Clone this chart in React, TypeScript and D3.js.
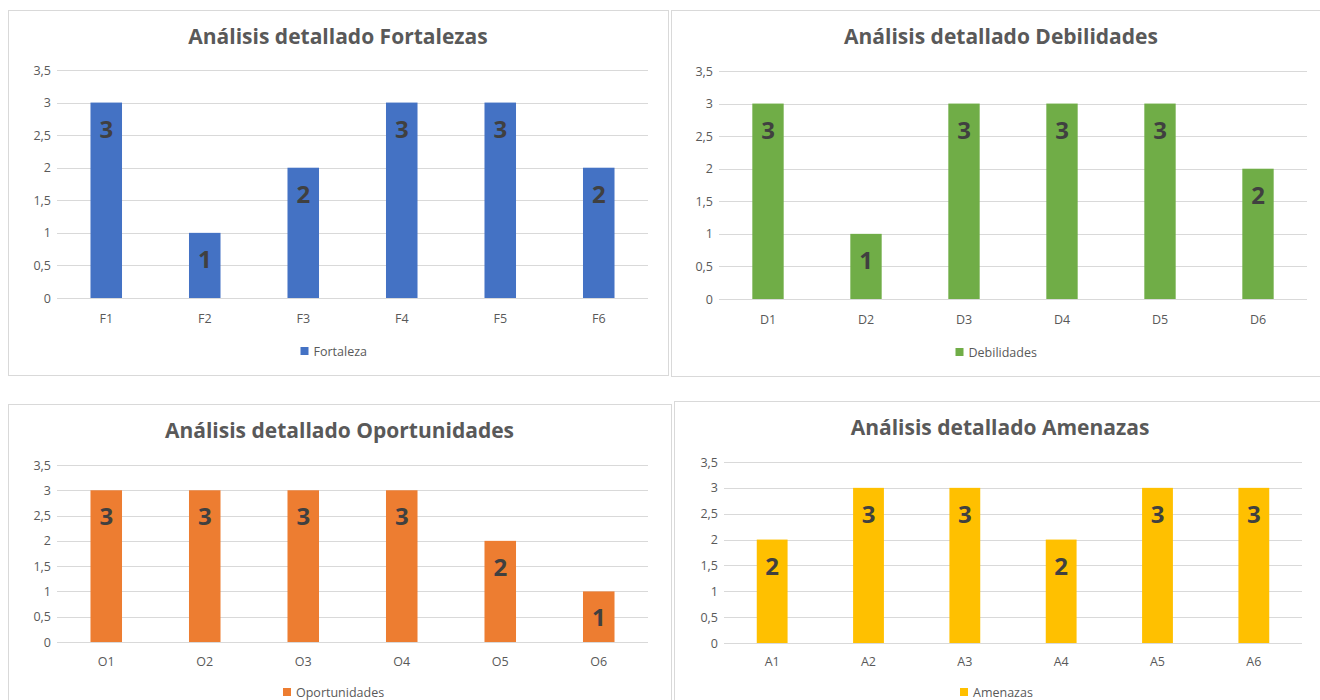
import React, { FC } from 'react'
import * as d3 from 'd3'

// datos
const fortalezasCats = ['F1', 'F2', 'F3', 'F4', 'F5', 'F6']
const fortalezasValues = [3, 1, 2, 3, 3, 2]
const debilidadesCats = ['D1', 'D2', 'D3', 'D4', 'D5', 'D6']
const debilidadesValues = [3, 1, 3, 3, 3, 2]
const oportunidadesCats = ['O1', 'O2', 'O3', 'O4', 'O5', 'O6']
const oportunidadesValues = [3, 3, 3, 3, 2, 1]
const amenazasCats = ['A1', 'A2', 'A3', 'A4', 'A5', 'A6']
const amenazasValues = [2, 3, 3, 2, 3, 3]
const yTicks = [0, 0.5, 1, 1.5, 2, 2.5, 3, 3.5]

const FONT = '"Open Sans", Lato, sans-serif'
const AXIS_COLOR = '#595959'
const GRID_COLOR = '#d9d9d9'

interface IBox {
	x: number
	y: number
	w: number
	h: number
}

interface IPlot {
	left: number
	right: number
	top: number
	bottom: number
}

interface IPanelProps {
	title: string
	legend: string
	cats: string[]
	values: number[]
	color: string
	frame: IBox
	plot: IPlot
	titleY: number
	xLabelY: number
	legendY: number
	legendW: number
}

const fmt = (v: number) => String(v).replace('.', ',')

const BarPanel: FC<IPanelProps> = (p) => {
	const { frame, plot } = p
	const x = d3.scaleBand<string>().domain(p.cats).range([plot.left, plot.right]).paddingInner(0.68).paddingOuter(0.34)
	const y = d3.scaleLinear().domain([0, 3.5]).range([plot.bottom, plot.top])
	const cx = frame.x + frame.w / 2
	const band = (plot.right - plot.left) / p.cats.length

	return (
		<g>
			<rect x={frame.x + 0.5} y={frame.y + 0.5} width={frame.w} height={frame.h} fill="#fff" stroke={GRID_COLOR} />
			<text x={cx} y={p.titleY} textAnchor="middle" fontFamily={FONT} fontWeight="bold" fontSize={21} fill={AXIS_COLOR}>
				{p.title}
			</text>
			{/* rejilla */}
			{yTicks.map((t) => (
				<g key={t}>
					<line x1={plot.left} x2={plot.right} y1={Math.round(y(t)) + 0.5} y2={Math.round(y(t)) + 0.5} stroke={GRID_COLOR} strokeWidth={1} />
					<text x={plot.left - 6} y={y(t) + 4.5} textAnchor="end" fontFamily={FONT} fontSize={12.5} fill={AXIS_COLOR}>
						{fmt(t)}
					</text>
				</g>
			))}
			{/* barras */}
			{p.values.map((v, i) => (
				<rect key={i} x={x(p.cats[i])} y={y(v)} width={x.bandwidth()} height={y(0) - y(v)} fill={p.color} />
			))}
			{/* etiquetas */}
			{p.values.map((v, i) => (
				<text
					key={i}
					x={(x(p.cats[i]) || 0) + x.bandwidth() / 2}
					y={y(v) + 35}
					textAnchor="middle"
					fontFamily={FONT}
					fontWeight="bold"
					fontSize={24}
					fill="#404040"
				>
					{v}
				</text>
			))}
			{p.cats.map((c, i) => (
				<text key={c} x={plot.left + band * (i + 0.5)} y={p.xLabelY + 4.5} textAnchor="middle" fontFamily={FONT} fontSize={12.5} fill={AXIS_COLOR}>
					{c}
				</text>
			))}
			{/* leyenda */}
			<rect x={cx - p.legendW / 2} y={p.legendY - 4} width={8} height={8} fill={p.color} />
			<text x={cx - p.legendW / 2 + 13} y={p.legendY + 4.5} fontFamily={FONT} fontSize={12.5} fill={AXIS_COLOR}>
				{p.legend}
			</text>
		</g>
	)
}

const App: FC = () => {
	return (
		<svg width={1320} height={700} style={{ position: 'absolute', left: 0, top: 0, background: '#fff' }}>
			<BarPanel
				title="Análisis detallado Fortalezas"
				legend="Fortaleza"
				cats={fortalezasCats}
				values={fortalezasValues}
				color="#4472c4"
				frame={{ x: 8, y: 10, w: 660, h: 365 }}
				plot={{ left: 57, right: 648, top: 70, bottom: 298 }}
				titleY={44}
				xLabelY={318}
				legendY={351}
				legendW={75}
			/>
			<BarPanel
				title="Análisis detallado Debilidades"
				legend="Debilidades"
				cats={debilidadesCats}
				values={debilidadesValues}
				color="#70ad47"
				frame={{ x: 671, y: 10, w: 660, h: 366 }}
				plot={{ left: 719, right: 1307, top: 71, bottom: 299 }}
				titleY={44}
				xLabelY={319}
				legendY={352}
				legendW={91}
			/>
			<BarPanel
				title="Análisis detallado Oportunidades"
				legend="Oportunidades"
				cats={oportunidadesCats}
				values={oportunidadesValues}
				color="#ed7d31"
				frame={{ x: 8, y: 404, w: 663, h: 310 }}
				plot={{ left: 57, right: 648, top: 465, bottom: 642 }}
				titleY={438}
				xLabelY={661}
				legendY={692}
				legendW={113}
			/>
			<BarPanel
				title="Análisis detallado Amenazas"
				legend="Amenazas"
				cats={amenazasCats}
				values={amenazasValues}
				color="#ffc000"
				frame={{ x: 674, y: 401, w: 652, h: 310 }}
				plot={{ left: 724, right: 1302, top: 462, bottom: 643 }}
				titleY={435}
				xLabelY={661}
				legendY={692}
				legendW={80}
			/>
		</svg>
	)
}

export default App
